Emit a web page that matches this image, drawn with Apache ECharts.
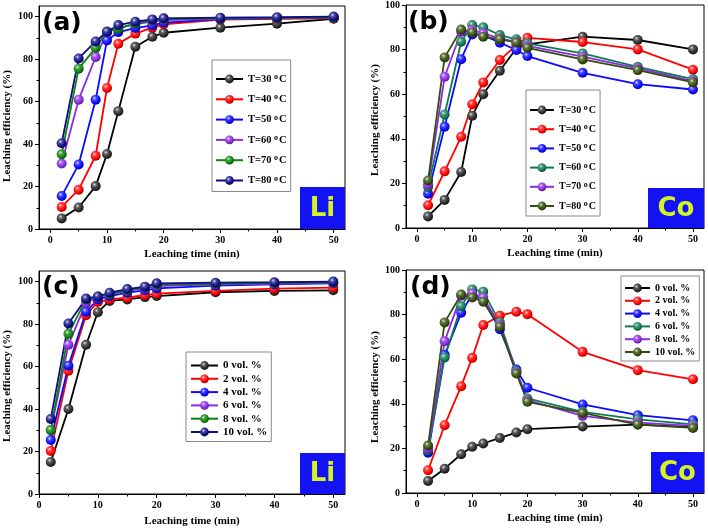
<!DOCTYPE html>
<html><head><meta charset="utf-8">
<script src="https://cdn.jsdelivr.net/npm/echarts@6/dist/echarts.min.js"></script>
<style>html,body{margin:0;padding:0;background:#fff}#c{width:708px;height:530px}</style>
</head><body><div id="c"></div>
<script>
// ---- data ----
const timeVals = [2, 5, 8, 10, 12, 15, 18, 20, 30, 40, 50];
const xTickLabels = [0, 10, 20, 30, 40, 50];
const xMinorTicks = [5, 15, 25, 35, 45];
const yTickLabels = [0, 20, 40, 60, 80, 100];
const yMinorTicks = [10, 30, 50, 70, 90];

const tempNames = ['T=30', 'T=40', 'T=50', 'T=60', 'T=70', 'T=80'];
const volNames = ['0 vol. %', '2 vol. %', '4 vol. %', '6 vol. %', '8 vol. %', '10 vol. %'];

// (a) Li vs temperature
const liT30 = [5.0, 10.1, 20.2, 35.3, 55.5, 85.8, 90.5, 92.4, 94.8, 96.7, 99.0];
const liT40 = [10.4, 18.5, 34.5, 66.4, 87.2, 92.0, 94.8, 96.4, 98.6, 99.0, 99.2];
const liT50 = [15.5, 30.4, 60.9, 88.8, 92.7, 94.6, 95.9, 97.2, 98.8, 99.2, 99.5];
const liT60 = [30.8, 60.9, 81.0, 92.5, 94.8, 96.4, 97.8, 98.4, 99.0, 99.3, 99.5];
const liT70 = [35.2, 75.5, 85.3, 93.0, 94.3, 96.8, 98.4, 99.0, 99.2, 99.4, 99.6];
const liT80 = [40.4, 80.3, 88.3, 92.9, 96.0, 97.6, 98.7, 99.2, 99.5, 99.7, 100.0];
// (b) Co vs temperature
const coT30 = [5.2, 12.6, 25.1, 50.3, 60.0, 70.5, 80.5, 82.3, 85.8, 84.3, 80.1];
const coT40 = [10.2, 25.4, 40.9, 55.5, 65.3, 75.3, 82.0, 85.3, 83.4, 80.1, 71.0];
const coT50 = [15.4, 45.4, 75.7, 86.8, 86.5, 83.1, 79.8, 77.1, 69.6, 64.5, 62.1];
const coT60 = [18.4, 50.9, 83.5, 91.0, 90.0, 86.5, 84.6, 82.8, 78.3, 72.3, 66.8];
const coT70 = [19.5, 67.8, 88.0, 88.8, 87.3, 85.0, 83.5, 81.7, 76.8, 71.6, 65.9];
const coT80 = [21.3, 76.5, 89.0, 87.7, 85.8, 84.6, 83.2, 80.8, 75.6, 70.8, 65.3];
// (c) Li vs reductant volume
const liV0 = [15.1, 40.0, 70.3, 85.6, 90.9, 91.6, 92.7, 93.2, 95.0, 95.6, 95.9];
const liV2 = [20.3, 58.0, 84.2, 90.4, 91.6, 92.4, 93.7, 94.3, 95.6, 96.7, 97.2];
const liV4 = [25.4, 60.4, 85.8, 91.6, 93.2, 94.8, 95.9, 96.8, 98.1, 98.7, 99.2];
const liV6 = [30.0, 70.3, 90.0, 92.7, 94.0, 95.6, 96.8, 97.9, 98.7, 99.0, 99.5];
const liV8 = [30.1, 75.4, 91.6, 93.0, 94.3, 95.9, 97.5, 98.7, 99.0, 99.4, 99.7];
const liV10 = [35.3, 80.3, 92.0, 93.0, 94.8, 96.5, 97.6, 99.2, 99.5, 99.7, 100.0];
// (d) Co vs reductant volume
const coV0 = [5.4, 10.9, 17.4, 20.7, 22.2, 24.7, 27.1, 28.6, 29.8, 30.7, 29.5];
const coV2 = [10.2, 30.4, 47.9, 60.6, 75.3, 79.5, 81.3, 80.2, 63.3, 55.1, 51.0];
const coV4 = [18.1, 62.0, 80.8, 89.0, 86.5, 73.4, 55.4, 47.2, 39.7, 34.9, 32.6];
const coV6 = [19.2, 60.8, 83.8, 91.3, 90.3, 76.5, 54.6, 42.4, 36.4, 33.0, 30.8];
const coV8 = [20.0, 68.1, 88.5, 89.5, 87.6, 75.3, 54.0, 41.6, 34.6, 31.6, 30.1];
const coV10 = [21.3, 76.5, 89.0, 87.7, 85.8, 74.6, 53.6, 40.9, 35.9, 30.7, 29.2];

// ---- styling ----
const SERIF = '"Liberation Serif","Times New Roman",serif';
const SANS = '"DejaVu Sans",Verdana,sans-serif';
const colsLi = ['#000000', '#ff0000', '#0a0aff', '#8a2be2', '#0c820c', '#0d0d85'];
const colsCo = ['#000000', '#ff0000', '#0a0aff', '#0f7a52', '#8a2be2', '#354d0c'];

function shade(hex, f) {
  const n = parseInt(hex.slice(1), 16);
  let r = (n >> 16) & 255, g = (n >> 8) & 255, b = n & 255;
  if (f > 0) { r += (255 - r) * f; g += (255 - g) * f; b += (255 - b) * f; }
  else { r *= 1 + f; g *= 1 + f; b *= 1 + f; }
  return 'rgb(' + Math.round(r) + ',' + Math.round(g) + ',' + Math.round(b) + ')';
}
function ball(hex) {
  const base = hex === '#000000' ? '#2a2a2a' : hex;
  return { type: 'radial', x: 0.38, y: 0.34, r: 0.7, colorStops: [
    { offset: 0, color: shade(base, 0.85) },
    { offset: 0.28, color: shade(base, 0.25) },
    { offset: 0.7, color: base },
    { offset: 1, color: shade(base, -0.45) }] };
}

const panels = [
  { grid: { left: 39, top: 6, width: 306, height: 223 }, xmin: -2, ymax: 105, names: tempNames, cols: colsLi,
    data: [liT30, liT40, liT50, liT60, liT70, liT80], xGap: 20, yGap: 26, yShift: 17,
    legend: { left: 212, top: 60, gap: 8.3, fs: 10.5, iw: 27, pad: [13, 4, 5, 3] }, temp: true },
  { grid: { left: 406, top: 5, width: 298, height: 223 }, xmin: -2, ymax: 100, names: tempNames, cols: colsCo,
    data: [coT30, coT40, coT50, coT60, coT70, coT80], xGap: 20, yGap: 25, yShift: 7,
    legend: { left: 526, top: 90, gap: 7.2, fs: 10, iw: 24, pad: [14, 4, 4, 3] }, temp: true },
  { grid: { left: 39, top: 271, width: 306, height: 223 }, xmin: 0, ymax: 105, names: volNames, cols: colsLi,
    data: [liV0, liV2, liV4, liV6, liV8, liV10], xGap: 22, yGap: 26, yShift: 7,
    legend: { left: 186, top: 352, gap: 2.3, fs: 11, iw: 27, pad: [8, 4, 4, 4] }, temp: false },
  { grid: { left: 406, top: 270, width: 298, height: 223 }, xmin: -2, ymax: 100, names: volNames, cols: colsCo,
    data: [coV0, coV2, coV4, coV6, coV8, coV10], xGap: 20, yGap: 25, yShift: 11,
    legend: { left: 621, top: 276, gap: 2.8, fs: 10, iw: 25, pad: [7, 4, 4, 3] }, temp: false }
];

const grids = [], xAxes = [], yAxes = [], series = [], legends = [];
const lblStyle = { color: '#000', fontFamily: SERIF, fontWeight: 'bold', fontSize: 10 };

panels.forEach((p, i) => {
  grids.push(Object.assign({ show: true, borderColor: '#000', borderWidth: 1, backgroundColor: 'transparent' }, p.grid));
  xAxes.push({
    gridIndex: i, type: 'value', min: p.xmin, max: 52, position: 'bottom',
    axisLine: { show: true, onZero: false, lineStyle: { color: '#000', width: 1 } },
    axisTick: { show: true, customValues: xTickLabels, length: 4, lineStyle: { color: '#000' } },
    axisLabel: Object.assign({ customValues: xTickLabels, margin: 6 }, lblStyle),
    splitLine: { show: false },
    name: 'Leaching time (min)', nameLocation: 'middle', nameGap: p.xGap,
    nameTextStyle: { color: '#000', fontFamily: SERIF, fontWeight: 'bold', fontSize: 11 }
  });
  xAxes.push({
    gridIndex: i, type: 'value', min: p.xmin, max: 52, position: 'bottom',
    axisLine: { show: false, onZero: false }, axisLabel: { show: false }, splitLine: { show: false },
    axisTick: { show: true, customValues: xMinorTicks, length: 2.5, lineStyle: { color: '#000' } }
  });
  yAxes.push({
    gridIndex: i, type: 'value', min: 0, max: p.ymax, position: 'left',
    axisLine: { show: true, onZero: false, lineStyle: { color: '#000', width: 1 } },
    axisTick: { show: true, customValues: yTickLabels, length: 4, lineStyle: { color: '#000' } },
    axisLabel: Object.assign({ customValues: yTickLabels, margin: 6 }, lblStyle),
    splitLine: { show: false },
    name: 'Leaching efficiency (%)', nameLocation: 'middle', nameGap: p.yGap,
    nameTextStyle: { color: '#000', fontFamily: SERIF, fontWeight: 'bold', fontSize: 11, padding: [0, p.yShift, 0, 0] }
  });
  yAxes.push({
    gridIndex: i, type: 'value', min: 0, max: p.ymax, position: 'left',
    axisLine: { show: false, onZero: false }, axisLabel: { show: false }, splitLine: { show: false },
    axisTick: { show: true, customValues: yMinorTicks, length: 2.5, lineStyle: { color: '#000' } }
  });
  const sNames = p.names.map(n => p.temp ? n + ' °C (' + 'abcd'[i] + ')' : n + ' (' + 'abcd'[i] + ')');
  p.data.forEach((arr, k) => {
    series.push({
      type: 'line', name: sNames[k], xAxisIndex: 2 * i, yAxisIndex: 2 * i,
      data: timeVals.map((t, j) => [t, arr[j]]),
      symbol: 'circle', symbolSize: 10, showSymbol: true,
      lineStyle: { color: p.cols[k], width: 1.8 },
      itemStyle: { color: ball(p.cols[k]) },
      emphasis: { disabled: true }, animation: false, clip: false
    });
  });
  legends.push({
    data: sNames, orient: 'vertical', left: p.legend.left, top: p.legend.top,
    padding: p.legend.pad, itemGap: p.legend.gap, itemWidth: p.legend.iw, itemHeight: 11,
    borderColor: '#8a8a8a', borderWidth: 1, backgroundColor: '#fff', selectedMode: false,
    formatter: function (n) {
      const base = n.replace(/ \([abcd]\)$/, '');
      return p.temp ? '{t|' + base.replace(' °C', '') + ' }{s|o}{t|C}' : '{t|' + base + '}';
    },
    textStyle: {
      color: '#000', fontFamily: SERIF, fontWeight: 'bold', fontSize: p.legend.fs,
      rich: {
        t: { fontFamily: SERIF, fontWeight: 'bold', fontSize: p.legend.fs, color: '#000', lineHeight: 12 },
        s: { fontFamily: SERIF, fontWeight: 'bold', fontSize: 8, color: '#000', lineHeight: 12, verticalAlign: 'top', padding: [0, 1, 4, 0] }
      }
    }
  });
});

const boxFill = '#1212f5', boxText = '#d4f522';
const graphics = [];
[
  { t: '(a)', x: 42, y: 25 }, { t: '(b)', x: 408, y: 24 }, { t: '(c)', x: 42, y: 289 }, { t: '(d)', x: 410, y: 289 }
].forEach(l => graphics.push({ type: 'text', left: l.x, top: l.y - 14, style: { text: l.t, font: 'bold 25px ' + SANS, fill: '#000' }, z: 100 }));
[
  { t: 'Li', x: 300, y: 187, w: 45, h: 42 }, { t: 'Co', x: 648, y: 188, w: 56, h: 40 },
  { t: 'Li', x: 300, y: 453, w: 45, h: 41 }, { t: 'Co', x: 651, y: 452, w: 53, h: 41 }
].forEach(b => {
  graphics.push({ type: 'rect', shape: { x: b.x, y: b.y, width: b.w, height: b.h }, style: { fill: boxFill }, z: 90 });
  graphics.push({ type: 'text', x: b.x + b.w / 2, y: b.y + b.h / 2 + 1, style: { text: b.t, font: 'bold 26px ' + SANS, fill: boxText, align: 'center', verticalAlign: 'middle' }, z: 91 });
});

const chart = echarts.init(document.getElementById('c'), null, { renderer: 'canvas' });
chart.setOption({
  backgroundColor: '#fff', animation: false,
  grid: grids, xAxis: xAxes, yAxis: yAxes, series: series, legend: legends, graphic: graphics
});
</script></body></html>
